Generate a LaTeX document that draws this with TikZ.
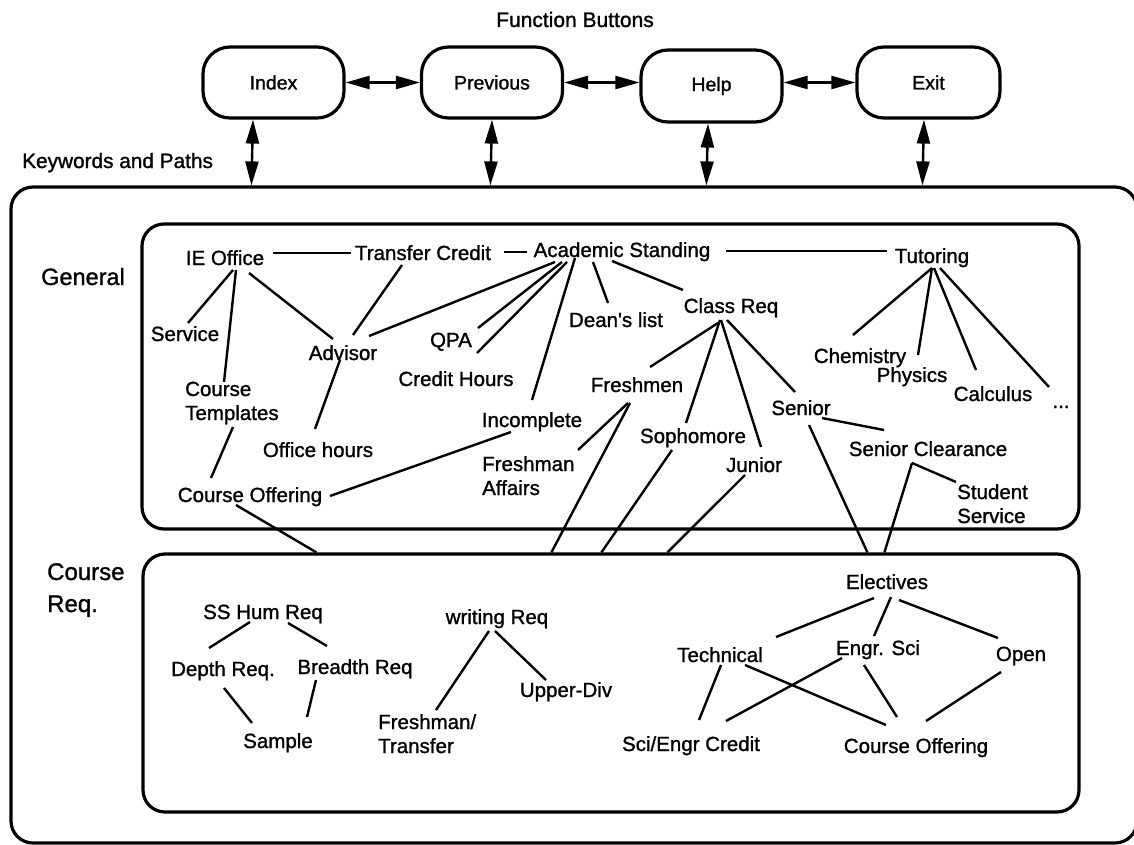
\documentclass[tikz,border=0pt]{standalone}
\usepackage{fontspec}
\setmainfont{Liberation Sans}[Ligatures=TeXOff, FakeBold=1.2]
\usetikzlibrary{arrows.meta}
\newcommand\lblfont{\fontsize{20.5}{24}\selectfont}
\tikzset{
  frame/.style={draw, line width=3.2pt, rounded corners=22pt, inner sep=0pt},
  btn/.style={draw, line width=3.2pt, rounded corners=27pt, inner sep=0pt,
    minimum width=141pt, minimum height=71pt, font=\fontsize{19.5}{22}\selectfont},
  lbl/.style={anchor=base, inner sep=0pt, font=\lblfont},
  % two-line labels: the base anchor sits on the second line
  lbltwo/.style={anchor=base west, align=left, inner sep=0pt, font=\lblfont},
  link/.style={line width=2.4pt},
  dbl/.style={line width=2.4pt,
    {Triangle[length=24pt,width=13pt]}-{Triangle[length=24pt,width=13pt]}},
}
\begin{document}
\begin{tikzpicture}[x=1pt,y=-1pt]
\useasboundingbox (0,0) rectangle (1134,845);
\fill[white] (0,0) rectangle (1134,845);
\clip (0,0) rectangle (1134,845);

% ---------- frames ----------
\node[frame, minimum width=1126pt, minimum height=656pt] (outer) at (574,515) {};
\node[frame, minimum width=937pt, minimum height=305pt] (gen) at (610.5,376.5) {};
\node[frame, minimum width=936pt, minimum height=258pt] (crs) at (611,683) {};

% ---------- function buttons ----------
\node[btn] (index)    at (273.5,82.5) {Index};
\node[btn] (previous) at (492,82.5)   {Previous};
\node[btn, minimum height=72pt] (help) at (711.5,86) {Help};
\node[btn, minimum width=143pt] (exit) at (928.5,82.5) {Exit};

\node[anchor=base, inner sep=0pt, font=\fontsize{21}{24}\selectfont] (fbtitle) at (575,27) {Function Buttons};
\node[anchor=base west, inner sep=0pt, font=\fontsize{20.8}{24}\selectfont] (kwtitle) at (22,168) {Keywords and Paths};
\node[anchor=base west, inner sep=0pt, font=\fontsize{23.5}{28}\selectfont] (gentitle) at (41,285) {General};
\node[anchor=base west, align=left, inner sep=0pt, font=\fontsize{24}{32}\selectfont] (crstitle) at (47,612) {Course\\Req.};

\draw[dbl] (index.east) -- (index.east -| previous.west);
\draw[dbl] (previous.east) -- (previous.east -| help.west);
\draw[dbl] (exit.west -| help.east) -- (exit.west);

\draw[dbl] ([shift={(-20.5,0)}]index.south) -- ([shift={(242,0)}]outer.north west);
\draw[dbl] (previous.south) -- ([shift={(481,0)}]outer.north west);
\draw[dbl] ([shift={(-3.5,0)}]help.south) -- ([shift={(697,0)}]outer.north west);
\draw[dbl] ([shift={(-4.5,0)}]exit.south) -- ([shift={(913,0)}]outer.north west);

% ---------- General ----------
\node[lbl] (ie)   at (225,265) {IE Office};
\node[lbl] (tc)   at (423,260) {Transfer Credit};
\node[lbl] (as)   at (622,257) {Academic Standing};
\node[lbl] (tut)  at (932,263) {Tutoring};
\node[lbl] (svc)  at (185,341) {Service};
\node[lbl] (adv)  at (343,360) {Advisor};
\node[lbl] (qpa)  at (451,347) {QPA};
\node[lbl] (ch)   at (456,386) {Credit Hours};
\node[lbl] (dl)   at (616,327) {Dean's list};
\node[lbl] (cr)   at (731,313) {Class Req};
\node[lbl] (chem) at (860,363) {Chemistry};
\node[lbl] (phys) at (912,382) {Physics};
\node[lbl] (calc) at (993,401) {Calculus};
\node[lbl] (dots) at (1061,408) {...};
\node[lbltwo] (ct) at (185,420) {Course\\Templates};
\node[lbl] (oh)   at (318,457) {Office hours};
\node[lbl] (co1)  at (250,502) {Course Offering};
\node[lbl] (inc)  at (532,427) {Incomplete};
\node[lbltwo] (fa) at (482,495) {Freshman\\Affairs};
\node[lbl] (fr)   at (637,392) {Freshmen};
\node[lbl] (soph) at (693,443) {Sophomore};
\node[lbl] (jun)  at (754,472) {Junior};
\node[lbl] (sen)  at (801,415) {Senior};
\node[lbl] (sc)   at (928,456) {Senior Clearance};
\node[lbltwo] (ss) at (957,523) {Student\\Service};

\draw[link] ([shift={(48,-12)}]ie.base) -- ([shift={(-72,-7)}]tc.base);
\draw[link] ([shift={(81,-8)}]tc.base) -- ([shift={(-95,-5)}]as.base);
\draw[link] ([shift={(104,-6)}]as.base) -- ([shift={(-45,-12)}]tut.base);
\draw[link] ([shift={(8,5)}]ie.base) -- ([shift={(3,-18)}]svc.base);
\draw[link] ([shift={(11,5)}]ie.base) -- ([shift={(39,-38)}]ct.base west);
\draw[link] ([shift={(24,8)}]ie.base) -- ([shift={(-10,-21)}]adv.base);
\draw[link] ([shift={(-21,5)}]tc.base) -- ([shift={(10,-25)}]adv.base);
\draw[link] ([shift={(-67,5)}]as.base) -- ([shift={(26,-24)}]adv.base);
\draw[link] ([shift={(-60,5)}]as.base) -- ([shift={(27,-19)}]qpa.base);
\draw[link] ([shift={(-55,5)}]as.base) -- ([shift={(21,-33)}]ch.base);
\draw[link] ([shift={(-47,1)}]as.base) -- ([shift={(0,-27)}]inc.base);
\draw[link] ([shift={(-29,5)}]as.base) -- ([shift={(-8,-24)}]dl.base);
\draw[link] ([shift={(-10,4)}]as.base) -- ([shift={(-48,-23)}]cr.base);
\draw[link] ([shift={(-3,0)}]adv.base) -- ([shift={(-3,-28)}]oh.base);
\draw[link] ([shift={(48,7)}]ct.base west) -- ([shift={(-39,-24)}]co1.base);
\draw[link] ([shift={(-21,5)}]inc.base) -- ([shift={(80,-6)}]co1.base);
\draw[link] ([shift={(-13,10)}]cr.base) -- ([shift={(13,-25)}]fr.base);
\draw[link] ([shift={(-11,7)}]cr.base) -- ([shift={(-7,-20)}]soph.base);
\draw[link] ([shift={(-10,7)}]cr.base) -- ([shift={(7,-25)}]jun.base);
\draw[link] ([shift={(-4,7)}]cr.base) -- ([shift={(-6,-23)}]sen.base);
\draw[link] ([shift={(0,5)}]tut.base) -- ([shift={(-7,-28)}]chem.base);
\draw[link] ([shift={(0,5)}]tut.base) -- ([shift={(6,-27)}]phys.base);
\draw[link] ([shift={(2,5)}]tut.base) -- ([shift={(-17,-31)}]calc.base);
\draw[link] ([shift={(8,5)}]tut.base) -- ([shift={(-12,-21)}]dots.base);
\draw[link] ([shift={(21,3)}]sen.base) -- ([shift={(-44,-26)}]sc.base);
\draw[link] ([shift={(-16,7)}]sc.base) -- ([shift={(-1,-41)}]ss.base west);
\draw[link] ([shift={(-9,11)}]fr.base) -- ([shift={(96,-45)}]fa.base west);

% paths from General topics down to the course requirements
\draw[link] ([shift={(-14,3)}]co1.base) -- ([shift={(175,0)}]crs.north west);
\draw[link] ([shift={(-7,11)}]fr.base) -- ([shift={(410,0)}]crs.north west);
\draw[link] ([shift={(-21,7)}]soph.base) -- ([shift={(460,0)}]crs.north west);
\draw[link] ([shift={(-9,3)}]jun.base) -- ([shift={(526,0)}]crs.north west);
\draw[link] ([shift={(8,10)}]sen.base) -- ([shift={(726,0)}]crs.north west);
\draw[link] ([shift={(-16,7)}]sc.base) -- ([shift={(743,0)}]crs.north west);

% ---------- Course Req. ----------
\node[lbl] (hum) at (263,619) {SS Hum Req};
\node[lbl] (dep) at (223,676) {Depth Req.};
\node[lbl] (bre) at (355,674) {Breadth Req};
\node[lbl] (sam) at (278,748) {Sample};
\node[lbl] (wr)  at (497,624) {writing Req};
\node[lbl] (ud)  at (566,697) {Upper-Div};
\node[lbltwo] (ft) at (378,753) {Freshman/\\Transfer};
\node[lbl] (ele) at (887,589) {Electives};
\node[lbl] (tec) at (720,662) {Technical};
\node[lbl] (eng) at (878,655) {Engr. Sci};
\node[lbl] (ope) at (1021,661) {Open};
\node[lbl] (sec) at (691,751) {Sci/Engr Credit};
\node[lbl] (co2) at (916,753) {Course Offering};

\draw[link] ([shift={(-13,3)}]hum.base) -- ([shift={(-14,-28)}]dep.base);
\draw[link] ([shift={(25,4)}]hum.base) -- ([shift={(-28,-28)}]bre.base);
\draw[link] ([shift={(1,12)}]dep.base) -- ([shift={(-26,-25)}]sam.base);
\draw[link] ([shift={(-39,6)}]bre.base) -- ([shift={(29,-31)}]sam.base);
\draw[link] ([shift={(-8,7)}]wr.base) -- ([shift={(58,-43)}]ft.base west);
\draw[link] ([shift={(-2,7)}]wr.base) -- ([shift={(-20,-17)}]ud.base);
\draw[link] ([shift={(-13,9)}]ele.base) -- ([shift={(56,-25)}]tec.base);
\draw[link] ([shift={(4,8)}]ele.base) -- ([shift={(-4,-19)}]eng.base);
\draw[link] ([shift={(12,11)}]ele.base) -- ([shift={(-23,-23)}]ope.base);
\draw[link] ([shift={(1,3)}]tec.base) -- ([shift={(8,-31)}]sec.base);
\draw[link] ([shift={(25,3)}]tec.base) -- ([shift={(-30,-28)}]co2.base);
\draw[link] ([shift={(-36,3)}]eng.base) -- ([shift={(35,-30)}]sec.base);
\draw[link] ([shift={(-14,10)}]eng.base) -- ([shift={(-19,-36)}]co2.base);
\draw[link] ([shift={(-20,11)}]ope.base) -- ([shift={(10,-32)}]co2.base);
\end{tikzpicture}
\end{document}
